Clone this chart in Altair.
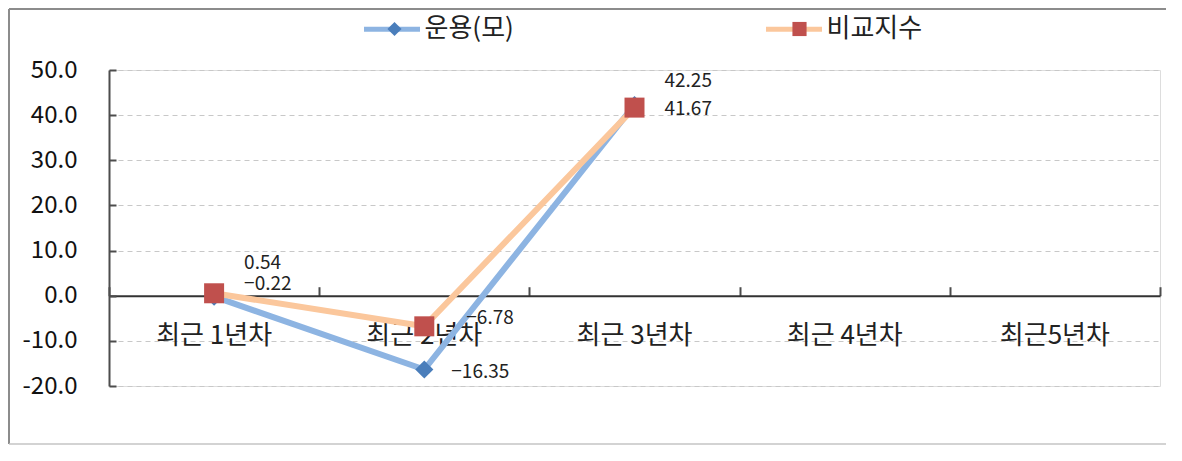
import math
import altair as alt
import pandas as pd

# ---------------- data ----------------
categories = ["최근 1년차", "최근 2년차", "최근 3년차", "최근 4년차", "최근5년차"]
series_names = ["운용(모)", "비교지수"]
fund_values = [-0.22, -16.35, 42.25]      # 운용(모)
bench_values = [0.54, -6.78, 41.67]       # 비교지수
y_ticks = [-20, -10, 0, 10, 20, 30, 40, 50]
y_domain = [-20, 50]

rows = []
for cat, v in zip(categories, fund_values):
    rows.append({"category": cat, "series": series_names[0], "value": v})
for cat, v in zip(categories, bench_values):
    rows.append({"category": cat, "series": series_names[1], "value": v})
df = pd.DataFrame(rows)

# ---------------- style ----------------
FONT = "Noto Sans CJK KR"
W, H = 1051, 316
PAD = {"left": 101, "top": 62, "right": 6, "bottom": 60}
Y0 = H * (y_domain[1] - 0) / (y_domain[1] - y_domain[0])   # pixel y of value 0

LINE_COLORS = ["#8DB4E2", "#FBC79C"]
MARK_COLORS = ["#4A7EBB", "#C0504D"]
AXIS_COLOR = "#4D4D4D"
FRAME_COLOR = "#8C8C8C"

# label offsets (dx, dy) per (series, category)
label_offsets = {
    (series_names[0], categories[0]): (30, -13),
    (series_names[1], categories[0]): (30, -30),
    (series_names[1], categories[1]): (42, -8),
    (series_names[0], categories[1]): (27, 2),
    (series_names[0], categories[2]): (30, -24),
    (series_names[1], categories[2]): (30, 1),
}

# legend geometry
LEG_CY = -41
LEG_CX = 283
LEG_FONT = 26
s1_size, s1_sw = 56 * 56, 5
w1 = math.ceil(math.sqrt(s1_size)) + s1_sw
s2_size, s2_sw = 200, 0
w2 = math.ceil(math.sqrt(s2_size)) + s2_sw
lo1 = 2
cp1 = 241
lo2 = lo1 + (w1 - w2) / 2
cp2 = cp1 + (w1 - w2) / 2
h1 = max(w1, LEG_FONT)
h2 = max(w2, LEG_FONT)

legend_line = alt.Legend(
    orient="none", legendX=LEG_CX - w1 / 2, legendY=LEG_CY - h1 / 2,
    direction="horizontal", title=None, padding=0,
    symbolType="stroke", symbolSize=s1_size, symbolStrokeWidth=s1_sw,
    labelFont=FONT, labelFontSize=LEG_FONT, labelColor="#222222",
    labelOffset=lo1, columnPadding=cp1, labelLimit=300,
)
legend_mark = alt.Legend(
    orient="none", legendX=LEG_CX - w2 / 2 - 3, legendY=LEG_CY - h2 / 2,
    direction="horizontal", title=None, padding=0,
    symbolSize=s2_size, symbolStrokeWidth=s2_sw,
    labelFont=FONT, labelFontSize=LEG_FONT, labelOpacity=0,
    labelOffset=lo2, columnPadding=cp2, labelLimit=300,
)

x_scale = alt.Scale(type="band", domain=categories, paddingInner=0, paddingOuter=0)
y_scale = alt.Scale(domain=y_domain, nice=False, zero=False)

x_axis_a = alt.Axis(orient="bottom", offset=-(H - Y0), title=None, labelAngle=0,
                    labelFont=FONT, labelFontSize=26, labelColor="#222222",
                    labelPadding=27, ticks=False, tickSize=0, domain=False, grid=False)
y_axis_a = alt.Axis(orient="left", values=y_ticks, format=".1f", title=None,
                    labelExpr="replace(datum.label, '\u2212', '-')",
                    labelFont=FONT, labelFontSize=24, labelColor="#111111",
                    labelPadding=32, ticks=False, tickSize=0,
                    domain=True, domainColor=AXIS_COLOR, domainWidth=2,
                    grid=True, gridDash=[5, 4], gridColor="#C8C8C8", gridWidth=1)
x_axis_b = alt.Axis(orient="top", offset=-Y0, title=None, labels=False,
                    ticks=True, tickSize=9, tickBand="extent", tickColor=AXIS_COLOR,
                    tickWidth=2, domain=True, domainColor="#333333", domainWidth=2,
                    grid=False)
y_axis_b = alt.Axis(orient="right", offset=-W, values=y_ticks, title=None,
                    labels=False, ticks=True, tickSize=7, tickColor=AXIS_COLOR,
                    tickWidth=2, domain=False, grid=False)

base = alt.Chart(df)


def enc_line(xa, ya):
    return dict(
        x=alt.X("category:N", sort=categories, scale=x_scale, axis=xa),
        y=alt.Y("value:Q", scale=y_scale, axis=ya),
        stroke=alt.Stroke("series:N", sort=series_names,
                          scale=alt.Scale(range=LINE_COLORS), legend=legend_line),
    )


def enc_point():
    return dict(
        x=alt.X("category:N", sort=categories, scale=x_scale, axis=None),
        y=alt.Y("value:Q", scale=y_scale, axis=None),
        fill=alt.Fill("series:N", scale=alt.Scale(domain=series_names, range=MARK_COLORS),
                      legend=legend_mark),
        shape=alt.Shape("series:N", scale=alt.Scale(domain=series_names, range=["diamond", "square"]),
                        legend=legend_mark),
    )


# outer chart frame: left, top and bottom edges
one = pd.DataFrame({"k": [0]})
left_x = -PAD["left"] + 1
top_y = -PAD["top"] + 1
bottom_y = H + PAD["bottom"] - 2
right_x = W + PAD["right"]
frame_left = alt.Chart(one).mark_rule(stroke=FRAME_COLOR, strokeWidth=2).encode(
    x=alt.value(left_x), x2=alt.value(left_x), y=alt.value(top_y), y2=alt.value(bottom_y))
frame_top = alt.Chart(one).mark_rule(stroke=FRAME_COLOR, strokeWidth=2).encode(
    x=alt.value(left_x), x2=alt.value(right_x), y=alt.value(top_y), y2=alt.value(top_y))
frame_bottom = alt.Chart(one).mark_rule(stroke="#C4C4C4", strokeWidth=1.5).encode(
    x=alt.value(left_x), x2=alt.value(right_x), y=alt.value(bottom_y), y2=alt.value(bottom_y))

fund_line = base.transform_filter(alt.datum.series == series_names[0]).mark_line(
    strokeWidth=6).encode(**enc_line(x_axis_a, y_axis_a))
fund_pts = base.transform_filter(alt.datum.series == series_names[0]).mark_point(
    filled=True, size=330, opacity=1, strokeWidth=0).encode(**enc_point())
bench_line = base.transform_filter(alt.datum.series == series_names[1]).mark_line(
    strokeWidth=6).encode(**enc_line(x_axis_b, y_axis_b))
bench_pts = base.transform_filter(alt.datum.series == series_names[1]).mark_point(
    filled=True, size=400, opacity=1, strokeWidth=0).encode(**enc_point())

text_layers = []
for (ser, cat), (dx, dy) in label_offsets.items():
    t = base.transform_filter(
        (alt.datum.series == ser) & (alt.datum.category == cat)
    ).mark_text(align="left", baseline="middle", dx=dx, dy=dy,
                font=FONT, fontSize=19, color="#222222").encode(
        x=alt.X("category:N", sort=categories, scale=x_scale, axis=None),
        y=alt.Y("value:Q", scale=y_scale, axis=None),
        text=alt.Text("value:Q", format=".2f"),
    )
    text_layers.append(t)

chart = alt.layer(
    frame_left, frame_top, frame_bottom,
    fund_line, fund_pts, bench_line, bench_pts, *text_layers
).properties(
    width=W, height=H,
    autosize=alt.AutoSizeParams(type="none"),
    padding=PAD,
).configure_view(stroke=None).configure(background="white")

chart.save("out.html", embed_options={"renderer": "svg", "actions": False})
